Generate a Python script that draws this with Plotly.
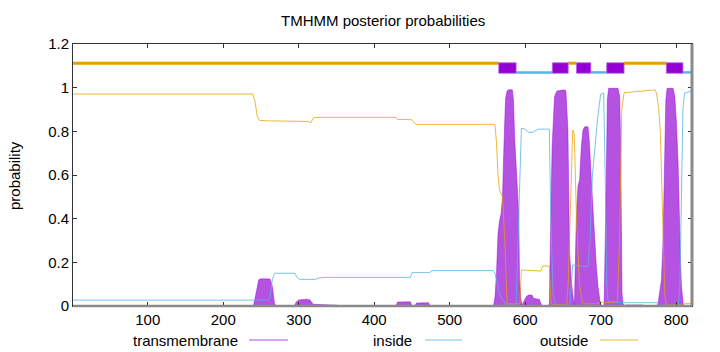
import plotly.graph_objects as go

# ---------------- data ----------------
x_range = [1, 821]
x_ticks = [100, 200, 300, 400, 500, 600, 700, 800]
y_ticks = [0, 0.2, 0.4, 0.6, 0.8, 1.0, 1.2]
y_tick_labels = ["0", "0.2", "0.4", "0.6", "0.8", "1", "1.2"]

# transmembrane posterior probability
tm_x = [1, 240, 243, 247, 250, 262, 265, 268, 270,
        294, 297, 300, 310, 315, 319, 350, 354,
        429, 431, 448, 450, 454, 456, 472, 474,
        558, 560, 562, 564, 566, 568, 570, 572, 574, 576, 578, 583, 584.5, 586, 588, 590, 591.5, 592.5, 594.5, 596,
        598, 601, 604, 609, 611, 619, 622,
        631, 632, 633.5, 635.7, 638.9, 642, 652, 654, 656.6, 657.5, 658.8, 661, 663, 664.5,
        665.5, 667.7, 669.9, 672.1, 674.4, 676.6, 678.8, 683.2, 684.1, 685.4, 687.6, 689.8, 692.1, 694.3, 696.5, 698.7, 700,
        704.5, 705.3, 707.5, 708.8, 710.6, 723, 725.2, 726.5, 727.5, 728.3, 729.6, 731,
        732, 756, 758,
        774, 776, 778.3, 780.5, 782.7, 784, 785, 786.3, 788, 796, 798.2, 800.4, 802.6, 804, 805.8, 807.1, 809.3, 811, 821]
tm_y = [0.0, 0.0, 0.05, 0.12, 0.125, 0.124, 0.09, 0.01, 0.0,
        0.0, 0.02, 0.028, 0.031, 0.028, 0.008, 0.004, 0.0,
        0.0, 0.018, 0.019, 0.0, 0.0, 0.014, 0.015, 0.0,
        0.0, 0.04, 0.15, 0.33, 0.39, 0.42, 0.5, 0.75, 0.95, 0.985, 0.99, 0.99, 0.944, 0.776, 0.64, 0.53, 0.42, 0.12, 0.027, 0.005,
        0.02, 0.04, 0.05, 0.05, 0.035, 0.03, 0.0,
        0.0, 0.01, 0.4, 0.73, 0.96, 0.985, 0.99, 0.985, 0.806, 0.425, 0.25, 0.12, 0.05, 0.005,
        0.043, 0.394, 0.547, 0.577, 0.73, 0.806, 0.821, 0.821, 0.791, 0.73, 0.577, 0.425, 0.272, 0.18, 0.088, 0.012, 0.0,
        0.0, 0.12, 0.577, 0.944, 0.997, 0.997, 0.959, 0.73, 0.3, 0.06, 0.01, 0.0,
        0.005, 0.005, 0.0,
        0.0, 0.012, 0.058, 0.119, 0.302, 0.577, 0.806, 0.944, 0.997, 0.997, 0.959, 0.837, 0.654, 0.425, 0.196, 0.088, 0.012, 0.0, 0.0]

# inside posterior probability
in_x = [1, 259, 262, 265, 268, 295, 298, 301, 322, 326, 333, 448, 450, 473, 477, 558,
        560, 563, 566, 570, 575, 588, 591, 595, 600, 605, 610, 617, 632, 634, 637, 641,
        659, 661, 663, 683, 686, 689, 692, 696, 700, 704, 706, 708, 710, 730, 775, 778,
        803, 805, 807, 809, 811, 821]
in_y = [0.027, 0.027, 0.04, 0.12, 0.15, 0.15, 0.13, 0.122, 0.122, 0.128, 0.131, 0.131, 0.153, 0.153, 0.162, 0.162,
        0.15, 0.1, 0.06, 0.03, 0.005, 0.005, 0.4, 0.814, 0.81, 0.795, 0.795, 0.81, 0.81, 0.4, 0.05, 0.003,
        0.003, 0.1, 0.188, 0.18, 0.3, 0.6, 0.72, 0.86, 0.97, 0.975, 0.6, 0.1, 0.02, 0.015, 0.015, 0.003,
        0.003, 0.1, 0.5, 0.9, 0.975, 0.985]

# outside posterior probability
out_x = [1, 239, 242, 245, 248, 260, 300, 312, 316, 320, 428, 431, 450, 455, 556,
         560, 562, 564, 566, 570, 573, 576, 593, 595, 621, 623, 632, 634, 636,
         655, 657, 660, 663, 665, 668, 672, 676, 696, 700, 705, 722, 725, 728, 731,
         756, 772, 774, 777, 779, 781, 783, 785, 787, 809, 812, 821]
out_y = [0.971, 0.971, 0.94, 0.87, 0.85, 0.848, 0.846, 0.845, 0.84, 0.864, 0.864, 0.855, 0.853, 0.832, 0.832,
         0.83, 0.75, 0.6, 0.53, 0.50, 0.3, 0.01, 0.01, 0.165, 0.16, 0.183, 0.183, 0.02, 0.005,
         0.005, 0.1, 0.5, 0.806, 0.79, 0.4, 0.1, 0.01, 0.01, 0.02, 0.015, 0.02, 0.3, 0.9, 0.977,
         0.985, 0.99, 0.975, 0.9, 0.8, 0.6, 0.3, 0.05, 0.005, 0.005, 0.012, 0.012]

# predicted topology
topo_start = [1, 565, 588, 636, 657, 668, 687, 708, 731, 787, 809]
topo_end = [565, 588, 636, 657, 668, 687, 708, 731, 787, 809, 821]
topo_type = ["outside", "TMhelix", "inside", "TMhelix", "outside", "TMhelix",
             "inside", "TMhelix", "outside", "TMhelix", "inside"]

legend_names = ["transmembrane", "inside", "outside"]

# ---------------- style ----------------
C_TM = "#9400d3"
C_IN = "#56b4e9"
C_OUT = "#e69f00"
C_IN_L = "rgba(86,180,233,0.8)"
C_OUT_L = "rgba(230,159,0,0.75)"
FONT = "Liberation Sans"
FS = 15

fig = go.Figure()

fig.add_trace(go.Scatter(x=tm_x, y=tm_y, mode="lines", fill="tozeroy",
                         fillcolor="rgba(148,0,211,0.68)",
                         line=dict(color="rgba(148,0,211,0.75)", width=0.6),
                         hoverinfo="skip", showlegend=False))
fig.add_trace(go.Scatter(x=in_x, y=in_y, mode="lines",
                         line=dict(color=C_IN_L, width=1), hoverinfo="skip", showlegend=False))
fig.add_trace(go.Scatter(x=out_x, y=out_y, mode="lines",
                         line=dict(color=C_OUT_L, width=1), hoverinfo="skip", showlegend=False))

# topology bars
ox, oy, ix, iy = [], [], [], []
for s, e, t in zip(topo_start, topo_end, topo_type):
    if t == "outside":
        ox += [s, e, None]; oy += [1.112, 1.112, None]
    elif t == "inside":
        ix += [s, e, None]; iy += [1.07, 1.07, None]
fig.add_trace(go.Scatter(x=ox, y=oy, mode="lines", line=dict(color=C_OUT, width=3),
                         hoverinfo="skip", showlegend=False))
fig.add_trace(go.Scatter(x=ix, y=iy, mode="lines", line=dict(color=C_IN, width=2.5),
                         hoverinfo="skip", showlegend=False))
bx, by = [], []
for s, e, t in zip(topo_start, topo_end, topo_type):
    if t == "TMhelix":
        bx += [s, e, e, s, s, None]; by += [1.066, 1.066, 1.114, 1.114, 1.066, None]
fig.add_trace(go.Scatter(x=bx, y=by, mode="lines", fill="toself", fillcolor=C_TM,
                         line=dict(color="#b366e6", width=0.8),
                         hoverinfo="skip", showlegend=False))

L, R, T, B = 73, 28, 44, 46
W, H = 720, 352
pw, ph = W - L - R, H - T - B

def px(xp):
    return (xp - L) / pw

def py(yp):
    return (H - B - yp) / ph

ann = [
    dict(text="TMHMM posterior probabilities", x=0.5, y=py(20), xref="paper", yref="paper",
         showarrow=False, xanchor="center", yanchor="middle", font=dict(size=FS, color="#000", family=FONT)),
    dict(text="probability", x=px(14), y=0.5, xref="paper", yref="paper", textangle=-90,
         showarrow=False, xanchor="center", yanchor="middle", font=dict(size=FS, color="#000", family=FONT)),
]
shapes = []
legend_text_right = [240, 414, 590]
legend_line = [(249, 288), (425, 462), (600, 638)]
legend_cols = ["rgba(148,0,211,0.7)", C_IN_L, C_OUT_L]
for name, tr, (l0, l1), c in zip(legend_names, legend_text_right, legend_line, legend_cols):
    ann.append(dict(text=name, x=px(tr), y=py(340), xref="paper", yref="paper", showarrow=False,
                    xanchor="right", yanchor="middle", font=dict(size=FS, color="#000", family=FONT)))
    shapes.append(dict(type="line", xref="paper", yref="paper", x0=px(l0), x1=px(l1),
                       y0=py(340), y1=py(340), line=dict(color=c, width=1)))
# grey bottom and right borders
shapes.append(dict(type="line", xref="paper", yref="paper", x0=0, x1=1, y0=0, y1=0,
                   line=dict(color="#8a8a8a", width=2.5)))
shapes.append(dict(type="line", xref="paper", yref="paper", x0=1, x1=1, y0=0, y1=1,
                   line=dict(color="#8a8a8a", width=3)))

fig.update_layout(
    width=W, height=H, margin=dict(l=L, r=R, t=T, b=B),
    paper_bgcolor="white", plot_bgcolor="white",
    font=dict(family=FONT, size=FS, color="#000"),
    annotations=ann, shapes=shapes, showlegend=False,
    xaxis=dict(range=x_range, tickvals=x_ticks, ticks="inside", ticklen=4, tickcolor="#333",
               showline=True, linecolor="#333", linewidth=1, mirror="ticks",
               showgrid=False, zeroline=False, tickfont=dict(size=FS, family=FONT)),
    yaxis=dict(range=[0, 1.2], tickvals=y_ticks, ticktext=y_tick_labels, ticks="inside", ticklen=4,
               tickcolor="#333", showline=True, linecolor="#333", linewidth=1, mirror="ticks",
               showgrid=False, zeroline=False, tickfont=dict(size=FS, family=FONT)),
)

fig.write_html("out.html")
